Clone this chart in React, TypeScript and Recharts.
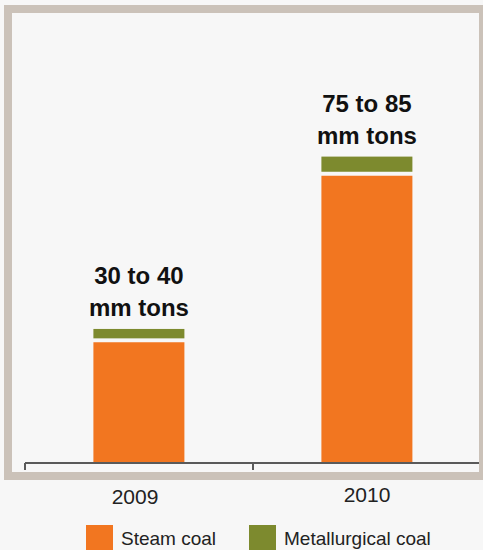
import { Bar, BarChart, LabelList, XAxis, YAxis } from "recharts";

const years = ["2009", "2010"];
const steamCoal = [31.5, 75];
const metallurgicalCoal = [3.5, 5];
const rangeLow = [30, 75];
const rangeHigh = [40, 85];

const STEAM = "#f27620";
const MET = "#7d8a2e";
const FONT = "'Liberation Sans', Arial, Helvetica, sans-serif";

const data = years.map((year, i) => ({
  year,
  steam: steamCoal[i],
  met: metallurgicalCoal[i],
  label: `${rangeLow[i]} to ${rangeHigh[i]}`
}));

// green cap sits on the orange bar with a small gap underneath
const MetShape = (props: any) => {
  const { x, y, width, height } = props;
  const h = Math.max(height - 4, 0);
  return <rect x={x} y={y} width={width} height={h} fill={MET} />;
};

const RangeLabel = (props: any) => {
  const { x, y, width, index } = props;
  const cx = x + width / 2;
  return (
    <g fontFamily={FONT} fontSize={24} fontWeight="bold" fill="#111" textAnchor="middle">
      <text x={cx} y={y - 45}>{data[index].label}</text>
      <text x={cx} y={y - 13}>mm tons</text>
    </g>
  );
};

// year label in the middle of the band, tick marks on the band edges
const YearTick = (props: any) => {
  const { x, y, payload, index, visibleTicksCount, width } = props;
  const band = width && visibleTicksCount ? width / visibleTicksCount : 228;
  const left = x - band / 2;
  const right = x + band / 2;
  return (
    <g>
      <line x1={left} x2={left} y1={y} y2={y + 7} stroke="#5a5a5a" strokeWidth={2} />
      {index === visibleTicksCount - 1 && (
        <line x1={right} x2={right} y1={y} y2={y + 7} stroke="#5a5a5a" strokeWidth={2} />
      )}
      <text
        x={x - (index === 0 ? 4 : 0)}
        y={y + 41 - (index === 0 ? 0 : 2)}
        textAnchor="middle"
        fontFamily={FONT}
        fontSize={21}
        fill="#222"
      >
        {payload.value}
      </text>
    </g>
  );
};

const legendItems = [
  { name: "Steam coal", color: STEAM },
  { name: "Metallurgical coal", color: MET }
];

export default function App() {
  return (
    <div
      style={{
        position: "absolute",
        left: 0,
        top: 0,
        width: 483,
        height: 550,
        background: "#f7f7f7",
        overflow: "hidden"
      }}
    >
      <BarChart
        width={483}
        height={550}
        data={data}
        margin={{ top: 80, right: 2, left: 25, bottom: 57 }}
        barCategoryGap="30%"
      >
        <XAxis
          dataKey="year"
          height={30}
          axisLine={{ stroke: "#5a5a5a", strokeWidth: 2 }}
          tickLine={false}
          tickSize={0}
          tickMargin={0}
          tick={<YearTick />}
          interval={0}
        />
        <YAxis hide domain={[0, 100]} />
        <Bar dataKey="steam" stackId="coal" fill={STEAM} isAnimationActive={false} />
        <Bar dataKey="met" stackId="coal" fill={MET} shape={<MetShape />} isAnimationActive={false}>
          <LabelList dataKey="label" content={<RangeLabel />} />
        </Bar>
      </BarChart>

      <div
        style={{
          position: "absolute",
          left: 4,
          top: 5,
          width: 483,
          height: 475,
          boxSizing: "border-box",
          border: "8px solid #cbc2b9",
          pointerEvents: "none"
        }}
      />

      <div
        style={{
          position: "absolute",
          left: 86,
          top: 525,
          display: "flex",
          fontFamily: FONT,
          fontSize: 19,
          lineHeight: "28px",
          color: "#222"
        }}
      >
        {legendItems.map((item, i) => (
          <div key={item.name} style={{ display: "flex", marginLeft: i === 0 ? 0 : 33 }}>
            <div style={{ width: 27, height: 27, background: item.color, marginRight: 8 }} />
            <span>{item.name}</span>
          </div>
        ))}
      </div>
    </div>
  );
}
